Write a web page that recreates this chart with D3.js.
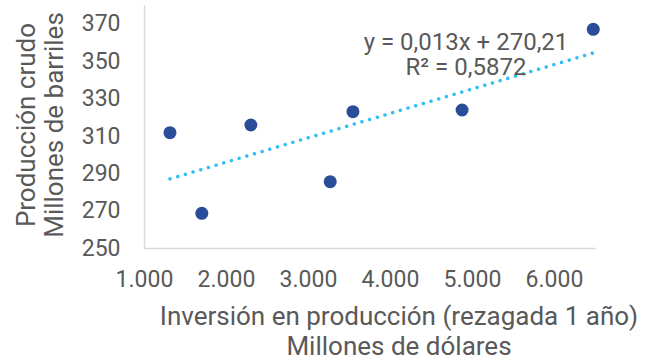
<!DOCTYPE html>
<html>
<head>
<meta charset="utf-8">
<script src="https://cdn.jsdelivr.net/npm/d3@7"></script>
<style>
  html, body { margin: 0; padding: 0; background: #fff; }
  svg text { font-family: Roboto, "Noto Sans", sans-serif; fill: #595959; }
</style>
</head>
<body>
<svg id="chart" width="657" height="362"></svg>
<script>
// ---- Data ----
const inversion = [1317, 1705, 2303, 3271, 3548, 4879, 6479];      // Millones de dólares (rezagada 1 año)
const produccion = [311.6, 268.5, 315.7, 285.4, 322.8, 323.7, 366.8]; // Millones de barriles
const xTicks = [1000, 2000, 3000, 4000, 5000, 6000];
const yTicks = [250, 270, 290, 310, 330, 350, 370];
const xDomain = [1000, 6500];
const yDomain = [250, 380];
const equationLabels = ["y = 0,013x + 270,21", "R² = 0,5872"];
const yTitle = ["Producción crudo", "Millones de barriles"];
const xTitle = ["Inversión en producción (rezagada 1 año)", "Millones de dólares"];

const points = inversion.map((x, i) => ({ x, y: produccion[i] }));

// ---- Layout ----
const svg = d3.select("#chart");
const plot = { left: 144, right: 595, top: 4.6, bottom: 248 };

const x = d3.scaleLinear().domain(xDomain).range([plot.left, plot.right]);
const y = d3.scaleLinear().domain(yDomain).range([plot.bottom, plot.top]);

const es = d3.formatLocale({ decimal: ",", thousands: ".", grouping: [3], currency: ["", ""] });
const fmtThousands = d => {
  const s = String(d);
  return s.length === 4 ? s[0] + "." + s.slice(1) : es.format(",")(d);
};

// Axes
const xAxis = d3.axisBottom(x).tickValues(xTicks).tickSize(0).tickPadding(0).tickFormat(fmtThousands);
const gx = svg.append("g").attr("transform", `translate(0,${plot.bottom})`).call(xAxis);
gx.select(".domain").attr("stroke", "#d9d9d9").attr("stroke-width", 1.5);
gx.selectAll("text").attr("font-size", 23).attr("dy", null).attr("y", 38.5);

const yAxis = d3.axisLeft(y).tickValues(yTicks).tickSize(0).tickPadding(23.5);
const gy = svg.append("g").attr("transform", `translate(${plot.left},0)`).call(yAxis);
gy.select(".domain").attr("stroke", "#d9d9d9").attr("stroke-width", 1.5);
gy.selectAll("text").attr("font-size", 23);
svg.selectAll(".tick text").attr("fill", "#595959").attr("font-family", "Roboto, sans-serif");

// Linear regression trendline
const mx = d3.mean(inversion), my = d3.mean(produccion);
const slope = d3.sum(points, p => (p.x - mx) * (p.y - my)) / d3.sum(points, p => (p.x - mx) ** 2);
const intercept = my - slope * mx;
const ext = d3.extent(inversion);
const trend = ext.map(v => ({ x: v, y: intercept + slope * v }));

svg.append("path")
  .datum(trend)
  .attr("d", d3.line().x(d => x(d.x)).y(d => y(d.y)))
  .attr("fill", "none")
  .attr("stroke", "#2fc0f2")
  .attr("stroke-width", 3.5)
  .attr("stroke-linecap", "round")
  .attr("stroke-dasharray", "0.01 8");

// Points
svg.append("g").selectAll("circle")
  .data(points)
  .join("circle")
  .attr("cx", d => x(d.x))
  .attr("cy", d => y(d.y))
  .attr("r", 6.5)
  .attr("fill", "#2a4d99");

// Equation label
const eq = svg.append("text").attr("text-anchor", "middle").attr("font-size", 24);
eq.selectAll("tspan").data(equationLabels).join("tspan")
  .attr("x", 466).attr("y", (d, i) => 50 + i * 25).text(d => d);

// Y title (rotated)
const yt = svg.append("text").attr("text-anchor", "middle").attr("font-size", 26)
  .attr("transform", "rotate(-90)");
yt.selectAll("tspan").data(yTitle).join("tspan")
  .attr("x", -125).attr("y", (d, i) => 35 + i * 28.3).text(d => d);

// X title
const xt = svg.append("text").attr("text-anchor", "middle").attr("font-size", 26);
xt.selectAll("tspan").data(xTitle).join("tspan")
  .attr("x", 399).attr("y", (d, i) => 325 + i * 30).text(d => d);
</script>
</body>
</html>
